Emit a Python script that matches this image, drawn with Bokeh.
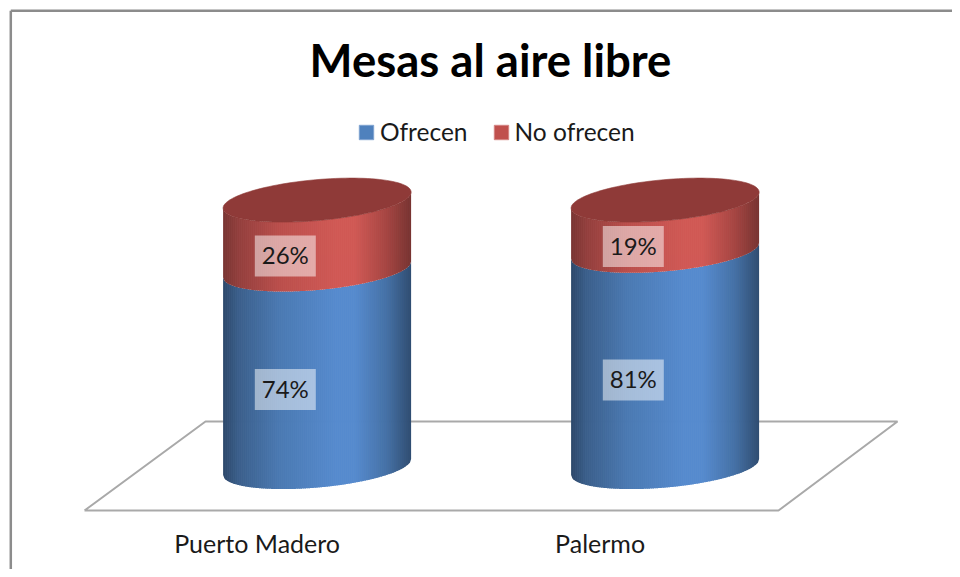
import numpy as np
from bokeh.plotting import figure
from bokeh.models import Legend, LegendItem, Range1d
from bokeh.core.properties import value
from bokeh.embed import file_html
from bokeh.resources import INLINE

# ---- data ----
categories = ["Puerto Madero", "Palermo"]
ofrecen = [74, 81]
no_ofrecen = [26, 19]
series_names = ["Ofrecen", "No ofrecen"]
title_text = "Mesas al aire libre"

# ---- layout ----
W, H = 952, 569
PX_X = 348.0          # px per category step
PX_Y = 2.67           # px per percentage point
X0, Y0 = 316.6, 466.6 # position of category 0, value 0
RX = 94.0 / PX_X      # cylinder half width (category units)
RY = 20.5 / PX_Y      # front-arc depth
SHEAR = 8.0 / PX_Y    # rise from centre to right edge
FONT = "Lato"


def dx(px):
    return (px - X0) / PX_X


def dy(py):
    return (Y0 - py) / PX_Y


p = figure(width=W, height=H, output_backend="svg", toolbar_location=None,
           x_range=Range1d(dx(0), dx(W)), y_range=Range1d(dy(H), dy(0)),
           min_border=0, background_fill_color="white", border_fill_color="white")
p.axis.visible = False
p.grid.visible = False
p.outline_line_color = None

# chart-area frame
p.multi_line([[dx(10.3), dx(10.3)], [dx(10.3), dx(W)]],
             [[dy(H), dy(10.3)], [dy(10.3), dy(10.3)]],
             line_color="#8c8c8c", line_width=2.5)

# floor
fx = [dx(84), dx(778), dx(897), dx(205), dx(84)]
fy = [dy(510), dy(510), dy(421), dy(421), dy(510)]
p.line(fx, fy, line_color="#a9a9a9", line_width=2)


def lerp_color(u, stops):
    pos = [s[0] for s in stops]
    rgb = [np.interp(u, pos, [s[1][i] for s in stops]) for i in range(3)]
    return "#%02x%02x%02x" % tuple(int(round(c)) for c in rgb)


BLUE = [(0, (44, 72, 106)), (.08, (58, 94, 138)), (.3, (74, 121, 178)), (.6, (85, 138, 206)),
        (.7, (85, 138, 206)), (.87, (68, 112, 165)), (1, (46, 76, 112))]
RED = [(0, (120, 52, 50)), (.08, (146, 62, 60)), (.3, (186, 78, 75)), (.6, (208, 88, 84)),
       (.7, (208, 88, 84)), (.87, (165, 68, 65)), (1, (118, 50, 48))]
N = 94


def front(u, v):
    """value-axis position of the front arc of a cylinder slice at u in [-1, 1]"""
    return v + SHEAR * u - RY * np.sqrt(np.clip(1 - u * u, 0, 1))


def side(xc, v0, v1, stops):
    xs, ys, cs = [], [], []
    over = 0.7 / (RX * PX_X)
    for i in range(N):
        a, b = -1 + 2 * i / N, -1 + 2 * (i + 1) / N
        b2 = b if i == N - 1 else b + over
        us = np.linspace(a, b2, 3)
        xs.append(list(xc + RX * us) + list(xc + RX * us[::-1]))
        ys.append(list(front(us, v0)) + list(front(us[::-1], v1)))
        cs.append(lerp_color((a + b) / 2 * .5 + .5, stops))
    p.patches(xs, ys, fill_color=cs, line_color=None)


for i, (a, b) in enumerate(zip(ofrecen, no_ofrecen)):
    side(i, 0, a, BLUE)
    side(i, a, a + b, RED)
    t = np.linspace(0, 2 * np.pi, 120)
    p.patch(i + RX * np.cos(t), (a + b) + SHEAR * np.cos(t) + RY * np.sin(t),
            fill_color="#8f3a38", line_color="#8f3a38", line_width=0.6)

# data labels
LX = -31.8 / PX_X
LOFF = 7.9
TXT_UP = 0.5
BOX_W, BOX_H = 61 / PX_X, 41 / PX_Y
lx, ly, lt = [], [], []
for i, (a, b) in enumerate(zip(ofrecen, no_ofrecen)):
    lx += [i + LX, i + LX]
    ly += [a / 2 - LOFF, a + b / 2 - LOFF]
    lt += [f"{a}%", f"{b}%"]
p.rect(lx, ly, width=BOX_W, height=BOX_H, fill_color="white", fill_alpha=0.5, line_color=None)
p.text(lx, [v + TXT_UP for v in ly], text=lt, text_font=value(FONT), text_font_size="24px",
       text_color="#1a1a1a", text_align="center", text_baseline="middle")

# category labels
p.text([i - 60 / PX_X - (i * 5 / PX_X) for i in range(2)], [dy(542)] * 2, text=categories,
       text_font=value(FONT), text_font_size="25px", text_color="#1a1a1a",
       text_align="center", text_baseline="middle")

# title
p.text([dx(490)], [dy(59)], text=[title_text], text_font=value(FONT), text_font_size="45.5px",
       text_font_style="bold", text_color="black", text_align="center", text_baseline="middle")

# legend
nan = float("nan")
r1 = p.quad(left=[nan], right=[nan], top=[nan], bottom=[nan], fill_color="#4f81bd", line_color="#7fa3d0")
r2 = p.quad(left=[nan], right=[nan], top=[nan], bottom=[nan], fill_color="#c0504d", line_color="#d48482")
leg = Legend(items=[LegendItem(label=series_names[0], renderers=[r1]),
                    LegendItem(label=series_names[1], renderers=[r2])],
             orientation="horizontal", location=(357, H - 146),
             glyph_width=18, glyph_height=18, label_standoff=5, spacing=24, padding=0, margin=0,
             label_text_font=FONT, label_text_font_size="24.5px", label_text_color="#1a1a1a",
             background_fill_alpha=0, border_line_color=None)
p.add_layout(leg, "center")

open("out.html", "w").write(file_html(p, INLINE))
